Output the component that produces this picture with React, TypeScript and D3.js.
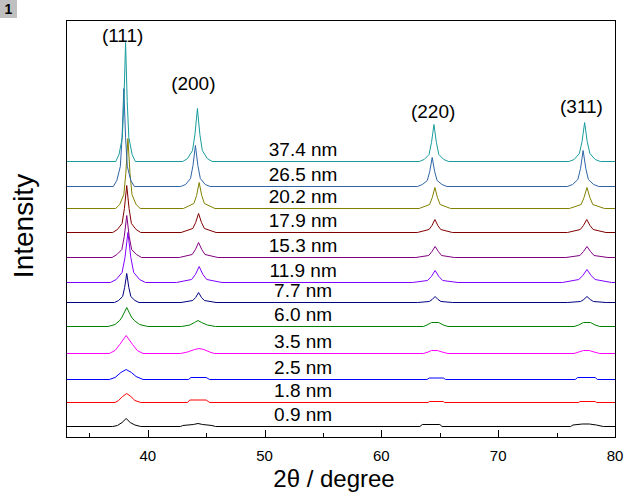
import React from 'react';
import * as d3 from 'd3';

// ---- data ----
const sizeLabels = ["0.9 nm", "1.8 nm", "2.5 nm", "3.5 nm", "6.0 nm", "7.7 nm", "11.9 nm", "15.3 nm", "17.9 nm", "20.2 nm", "26.5 nm", "37.4 nm"];
// vertical stacking offset of each pattern (intensity units)
const offsets = [11, 35, 58, 84, 111, 135, 155, 180, 205, 229, 251, 276];

type Pt = [number, number];

const trace_0_9: Pt[] = [[33, 0], [37.0, 0], [37.4, 1], [37.8, 4], [38.15, 8], [38.5, 4], [38.9, 1.5], [39.4, 0],
  [42.8, 0], [43.0, 1], [43.9, 2], [44.3, 3], [44.7, 2], [45.5, 1], [45.8, 0],
  [63.3, 0], [63.5, 2], [65.0, 2], [65.2, 0],
  [76.2, 0], [76.4, 1.5], [77.2, 2.5], [77.8, 2.5], [78.4, 1.5], [79.0, 0], [80, 0]];
const trace_1_8: Pt[] = [[33, 0], [37.2, 0], [37.5, 2], [37.85, 6], [38.2, 9], [38.55, 6], [38.9, 2], [39.4, 0],
  [43.4, 0], [43.6, 2.5], [45.0, 2.5], [45.3, 0],
  [64.0, 0], [64.1, 1], [65.3, 1], [65.4, 0],
  [76.9, 0], [77.0, 1], [78.3, 1], [78.4, 0], [80, 0]];
const trace_2_5: Pt[] = [[33, 0], [36.7, 0], [37.2, 2], [37.7, 7], [38.15, 10], [38.6, 7], [39.0, 3], [39.6, 0],
  [43.5, 0], [43.7, 2], [45.0, 2], [45.3, 0],
  [63.9, 0], [64.1, 1.5], [65.3, 1.5], [65.5, 0],
  [76.6, 0], [76.8, 2], [78.3, 2], [78.5, 0], [80, 0]];
const trace_3_5: Pt[] = [[33, 0], [36.7, 0], [37.2, 3], [37.6, 9], [38.15, 18], [38.7, 9], [39.1, 3], [39.6, 0],
  [42.8, 0], [43.4, 1.5], [44.0, 4], [44.4, 5], [44.8, 4], [45.3, 1.5], [45.7, 0],
  [63.6, 0], [64.0, 1.5], [64.3, 3], [64.8, 3], [65.2, 1.5], [65.7, 0],
  [76.5, 0], [76.9, 1.5], [77.3, 3], [77.8, 3], [78.2, 1.5], [78.7, 0], [80, 0]];
const trace_6_0: Pt[] = [[33, 0], [36.6, 0], [37.2, 2], [37.6, 6], [37.8, 9.5], [38.2, 19], [38.6, 9.5], [38.85, 6], [39.3, 2], [40.0, 0],
  [42.9, 0], [43.6, 1.5], [44.0, 4], [44.3, 6], [44.6, 4], [45.1, 1.5], [45.8, 0],
  [63.6, 0], [63.9, 1.5], [64.3, 4], [64.9, 4], [65.3, 1.5], [65.7, 0],
  [76.5, 0], [76.9, 1.5], [77.3, 4], [77.9, 4], [78.3, 1.5], [78.7, 0], [80, 0]];
const trace_7_7: Pt[] = [[33, 0], [37.15, 0], [37.5, 2], [37.85, 6], [38.02, 15], [38.2, 29], [38.38, 15], [38.55, 6], [38.9, 2], [39.25, 0],
  [42.85, 0], [43.85, 2], [44.1, 5], [44.35, 10], [44.6, 5], [44.85, 2], [45.85, 0],
  [63.1, 0], [64.1, 1], [64.35, 3], [64.6, 6], [64.85, 3], [65.1, 1], [66.1, 0],
  [75.95, 0], [77.05, 1], [77.33, 3], [77.6, 6], [77.88, 3], [78.15, 1], [79.25, 0], [80, 0]];
const trace_11_9: Pt[] = [[33, 0], [36.8, 0], [37.3, 3], [37.8, 10], [38.05, 25], [38.3, 50], [38.55, 25], [38.8, 10], [39.3, 3], [39.8, 0],
  [42.45, 0], [43.75, 3], [44.08, 8], [44.4, 16], [44.72, 8], [45.05, 3], [46.35, 0],
  [62.65, 0], [63.95, 2], [64.28, 6], [64.6, 12], [64.92, 6], [65.25, 2], [66.55, 0],
  [75.5, 0], [76.9, 3], [77.25, 7], [77.6, 13], [77.95, 7], [78.3, 3], [79.7, 0], [80, 0]];
const trace_15_3: Pt[] = [[33, 0], [36.94, 0], [37.36, 3], [37.78, 8], [37.99, 21], [38.2, 42], [38.41, 21], [38.62, 8], [39.04, 3], [39.46, 0],
  [42.7, 0], [43.8, 3], [44.08, 8], [44.35, 15], [44.62, 8], [44.9, 3], [46.0, 0],
  [62.95, 0], [64.05, 2], [64.33, 6], [64.6, 11], [64.88, 6], [65.15, 2], [66.25, 0],
  [75.8, 0], [77.0, 2], [77.3, 6], [77.6, 11], [77.9, 6], [78.2, 2], [79.4, 0], [80, 0]];
const trace_17_9: Pt[] = [[33, 0], [37.0, 0], [37.4, 3], [37.8, 9], [38.0, 24], [38.2, 47], [38.4, 24], [38.6, 9], [39.0, 3], [39.4, 0],
  [42.85, 0], [43.85, 4], [44.1, 10], [44.35, 19], [44.6, 10], [44.85, 4], [45.85, 0],
  [63.08, 0], [64.08, 3], [64.33, 7], [64.58, 13], [64.83, 7], [65.08, 3], [66.08, 0],
  [75.93, 0], [77.03, 3], [77.3, 7], [77.58, 13], [77.86, 7], [78.13, 3], [79.23, 0], [80, 0]];
const trace_20_2: Pt[] = [[33, 0], [37.25, 0], [37.6, 4], [37.95, 14], [38.12, 35], [38.3, 70], [38.48, 35], [38.65, 14], [39.0, 4], [39.35, 0],
  [43.05, 0], [43.95, 5], [44.18, 13], [44.4, 26], [44.62, 13], [44.85, 5], [45.75, 0],
  [63.23, 0], [64.13, 4], [64.36, 11], [64.58, 21], [64.8, 11], [65.03, 4], [65.93, 0],
  [76.1, 0], [77.1, 4], [77.35, 11], [77.6, 21], [77.85, 11], [78.1, 4], [79.1, 0], [80, 0]];
const trace_26_5: Pt[] = [[33, 0], [37.05, 0], [37.35, 6], [37.65, 20], [37.8, 49], [37.95, 98], [38.1, 49], [38.25, 20], [38.55, 6], [38.85, 0],
  [42.82, 0], [43.24, 2], [43.66, 8], [43.87, 21], [44.08, 41], [44.29, 21], [44.5, 8], [44.92, 2], [45.34, 0],
  [63.09, 0], [63.51, 2], [63.93, 6], [64.14, 15], [64.35, 29], [64.56, 15], [64.77, 6], [65.19, 2], [65.61, 0],
  [75.92, 0], [76.37, 2], [76.82, 7], [77.05, 18], [77.27, 36], [77.5, 18], [77.72, 7], [78.17, 2], [78.62, 0], [80, 0]];
const trace_37_4: Pt[] = [[33, 0], [37.26, 0], [37.54, 7], [37.82, 24], [37.96, 60], [38.1, 119], [38.24, 60], [38.38, 24], [38.66, 7], [38.94, 0],
  [42.99, 0], [43.41, 3], [43.83, 11], [44.04, 27], [44.25, 53], [44.46, 27], [44.67, 11], [45.09, 3], [45.51, 0],
  [63.24, 0], [63.66, 2], [64.08, 7], [64.29, 19], [64.5, 37], [64.71, 19], [64.92, 7], [65.34, 2], [65.76, 0],
  [76.05, 0], [76.5, 2], [76.95, 8], [77.18, 20], [77.4, 39], [77.62, 20], [77.85, 8], [78.3, 2], [78.75, 0], [80, 0]];

const traces = [trace_0_9, trace_1_8, trace_2_5, trace_3_5, trace_6_0, trace_7_7, trace_11_9, trace_15_3, trace_17_9, trace_20_2, trace_26_5, trace_37_4];

const hklLabels = ["(111)", "(200)", "(220)", "(311)"];
const hklTheta = [37.85, 43.9, 64.43, 77.13];
const hklLevel = [395, 347, 319, 324];

const majorTicks = [40, 50, 60, 70, 80];
const minorTicks = [35, 45, 55, 65, 75];

// ---- styles ----
const colors = ["#000000", "#ff0000", "#0000ff", "#ff00ff", "#008000", "#000080", "#8000ff", "#800080", "#800000", "#808000", "#2f64a8", "#1a9c9c"];

const W = 634, H = 495;
const L = 66, R = 615, T = 20, B = 437;
const FONT = "Arial, 'Liberation Sans', Helvetica, sans-serif";

export default function App() {
  const x = d3.scaleLinear().domain([33, 80]).range([L, R]);
  const y = d3.scaleLinear().domain([0, B - T]).range([B, T]);
  const labelTheta = 53.3;

  return (
    <svg width={W} height={H} style={{ position: 'absolute', left: 0, top: 0, background: '#fff' }}>
      <rect x={0} y={0} width={W} height={H} fill="#fff" />
      {/* panel badge */}
      <rect x={0} y={0} width={17} height={18} fill="#c0c0c0" />
      <text x={8.5} y={14} textAnchor="middle" fontFamily={FONT} fontWeight="bold" fontSize={14} fill="#000">1</text>

      <defs>
        <clipPath id="plotclip"><rect x={L} y={0} width={R - L} height={B} /></clipPath>
      </defs>

      <g clipPath="url(#plotclip)" transform="translate(0,0.5)">
        {traces.map((tr, i) => {
          const line = d3.line<Pt>().x(d => x(d[0])).y(d => y(d[1] + offsets[i]));
          return <path key={i} d={line(tr) || ''} fill="none" stroke={colors[i]} strokeWidth={1} strokeLinejoin="round" />;
        })}
      </g>

      {/* size labels */}
      {sizeLabels.map((s, i) => (
        <text key={s} x={x(labelTheta)} y={y(offsets[i]) - 5} textAnchor="middle" fontFamily={FONT} fontSize={19} fill="#000">{s}</text>
      ))}

      {/* hkl labels */}
      {hklLabels.map((s, i) => (
        <text key={s} x={x(hklTheta[i])} y={y(hklLevel[i])} textAnchor="middle" fontFamily={FONT} fontSize={19} fill="#000">{s}</text>
      ))}

      {/* frame */}
      <rect x={L + 0.5} y={T + 0.5} width={R - L} height={B - T} fill="none" stroke="#000" strokeWidth={1} />

      {/* ticks */}
      {majorTicks.map(t => (
        <line key={'M' + t} x1={Math.round(x(t)) + 0.5} x2={Math.round(x(t)) + 0.5} y1={B} y2={B - 7} stroke="#000" strokeWidth={1} />
      ))}
      {minorTicks.map(t => (
        <line key={'m' + t} x1={Math.round(x(t)) + 0.5} x2={Math.round(x(t)) + 0.5} y1={B} y2={B - 4} stroke="#000" strokeWidth={1} />
      ))}
      {majorTicks.map(t => (
        <text key={'l' + t} x={x(t)} y={461} textAnchor="middle" fontFamily={FONT} fontSize={15} fill="#000">{t}</text>
      ))}

      {/* axis titles */}
      <text x={334} y={487} textAnchor="middle" fontFamily={FONT} fontSize={24} fill="#000">2θ / degree</text>
      <text transform={`translate(33,226) rotate(-90)`} textAnchor="middle" fontFamily={FONT} fontSize={28} fill="#000">Intensity</text>
    </svg>
  );
}
